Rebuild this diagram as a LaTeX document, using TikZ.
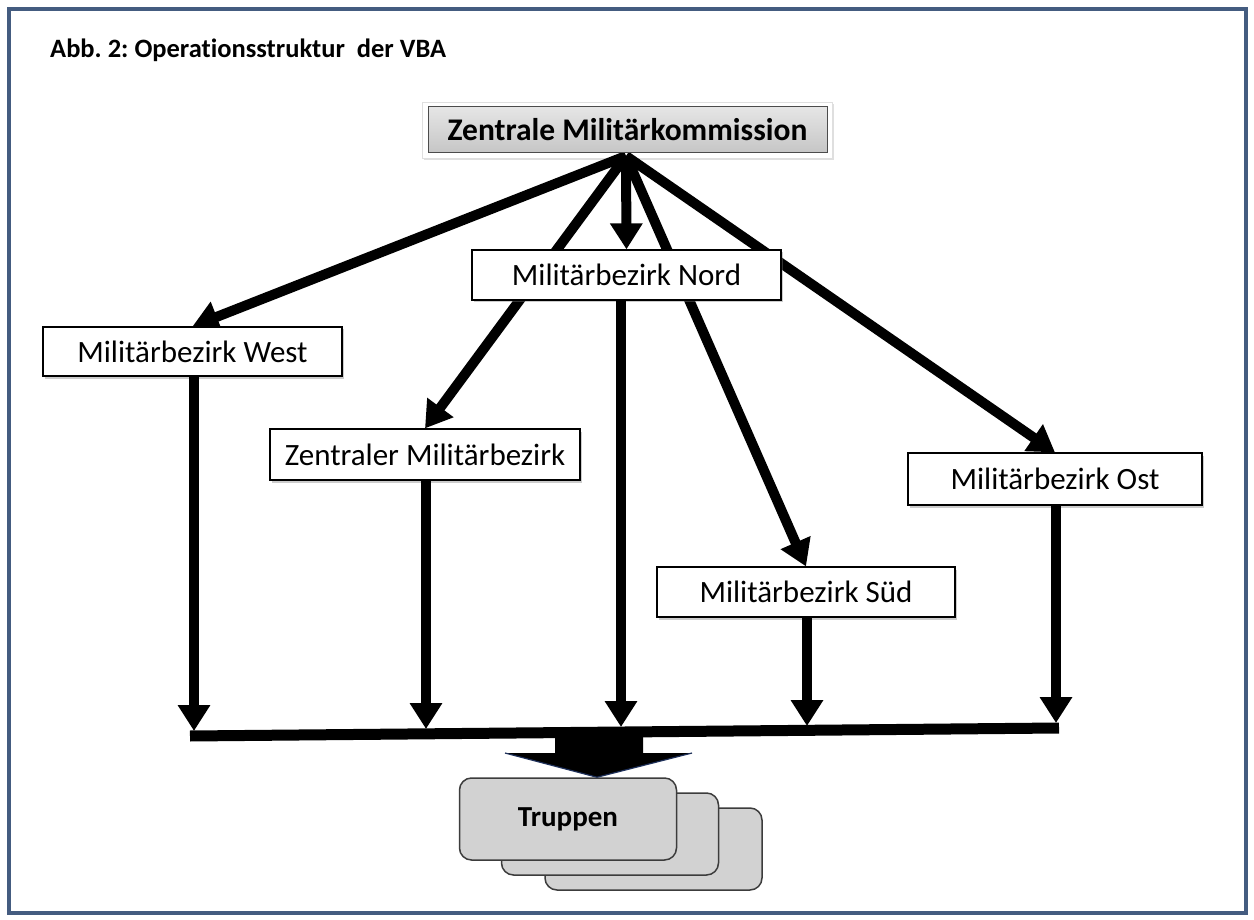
\documentclass[tikz,border=0pt]{standalone}
\usepackage{fontspec}
\setmainfont{Carlito}[Ligatures={NoCommon}]
\usetikzlibrary{arrows.meta,shadows,calc}
\pgfdeclarelayer{bga}
\pgfdeclarelayer{bgb}
\pgfsetlayers{bga,bgb,main}
\definecolor{framec}{RGB}{68,92,128}
\definecolor{truppc}{RGB}{210,210,210}
\definecolor{truppd}{RGB}{60,60,60}
\definecolor{navy}{RGB}{30,48,90}
\frenchspacing
\begin{document}
\begin{tikzpicture}[x=1pt,y=-1pt,
  district/.style={draw=black, line width=1.2pt, fill=white, inner sep=0pt,
    font=\fontsize{31}{34}\selectfont,
    drop shadow={shadow xshift=1.5pt, shadow yshift=-2.5pt, opacity=0.4, fill=gray}},
  fan/.style={line width=10pt, -{Triangle[length=26pt,width=31pt]}},
  bar/.style={line width=11pt},
  truppbox/.style={draw=truppd, line width=1.5pt, fill=truppc, rounded corners=12pt,
    minimum width=217pt, minimum height=82pt, inner sep=0pt},
]
\useasboundingbox (0,0) rectangle (1254,920);
\begin{pgfonlayer}{bga}
  \fill[white] (0,0) rectangle (1254,920);
  \draw[framec, line width=4pt] (9,9) rectangle (1246,913);
\end{pgfonlayer}

\node[anchor=base west, font=\bfseries\fontsize{26.5}{30}\selectfont, inner sep=0pt] (title) at (50,58) {Abb. 2: Operationsstruktur\ \ der VBA};

% top box
\node[draw=gray!60!black, line width=1pt, top color=gray!20, bottom color=gray!45,
  minimum width=399pt, minimum height=46pt, inner sep=0pt,
  font=\bfseries\fontsize{31.5}{34}\selectfont] (zmk) at (627.5,130) {Zentrale Militärkommission};
\begin{pgfonlayer}{bga}
  \fill[white, draw=gray!25, line width=0.6pt,
    drop shadow={shadow xshift=1pt, shadow yshift=-2pt, opacity=0.25, fill=gray}]
    ($(zmk.north west)+(-5,-4)$) rectangle ($(zmk.south east)+(5,5)$);
\end{pgfonlayer}
\coordinate (o) at (626,156);

% districts
\node[district, minimum width=299pt, minimum height=49pt] (W) at (192.5,351.5) {Militärbezirk West};
\node[district, minimum width=309pt, minimum height=50pt] (N) at (626.5,275) {Militärbezirk Nord};
\node[district, minimum width=310pt, minimum height=51pt] (Z) at (425,454.5) {Zentraler Militärbezirk};
\node[district, minimum width=294pt, minimum height=52pt] (O) at (1055,479) {Militärbezirk Ost};
\node[district, minimum width=298pt, minimum height=50pt] (S) at (806,592) {Militärbezirk Süd};

% fan arrows
\begin{pgfonlayer}{bgb}
  \draw[fan] (o) -- (W.north);
  \draw[fan] (o) -- (Z.north);
  \draw[fan] (o) -- (N.north);
  \draw[fan] (o) -- (S.north);
  \draw[fan] (o) -- (O.north);
\end{pgfonlayer}

% bar and down arrows
\coordinate (barL) at (190,736);
\coordinate (barR) at (1059,728);
\coordinate (tW) at (194,731);
\coordinate (tZ) at (426,729);
\coordinate (tN) at (621,727);
\coordinate (tS) at (807,726);
\coordinate (tO) at (1056,723);
\draw[fan] (W.south -| tW) -- (tW);
\draw[fan] (Z.south -| tZ) -- (tZ);
\draw[fan] (N.south -| tN) -- (tN);
\draw[fan] (S.south -| tS) -- (tS);
\draw[fan] (O.south -| tO) -- (tO);
\draw[bar] (barL) -- (barR);

% troops
\node[truppbox] (T3) at (653.5,849) {};
\node[truppbox] (T2) at (610,834) {};
\node[truppbox, font=\bfseries\fontsize{29}{32}\selectfont] (T1) at (568,819) {Truppen};

% block arrow
\fill[black] (555,733) -- (643,733) -- (643,753) -- (692,753) -- (T1.north -| 597,0) -- (505,753) -- (555,753) -- cycle;
\draw[navy, line width=1.2pt] (505,753) -- (T1.north -| 597,0) -- (692,753);
\end{tikzpicture}
\end{document}
